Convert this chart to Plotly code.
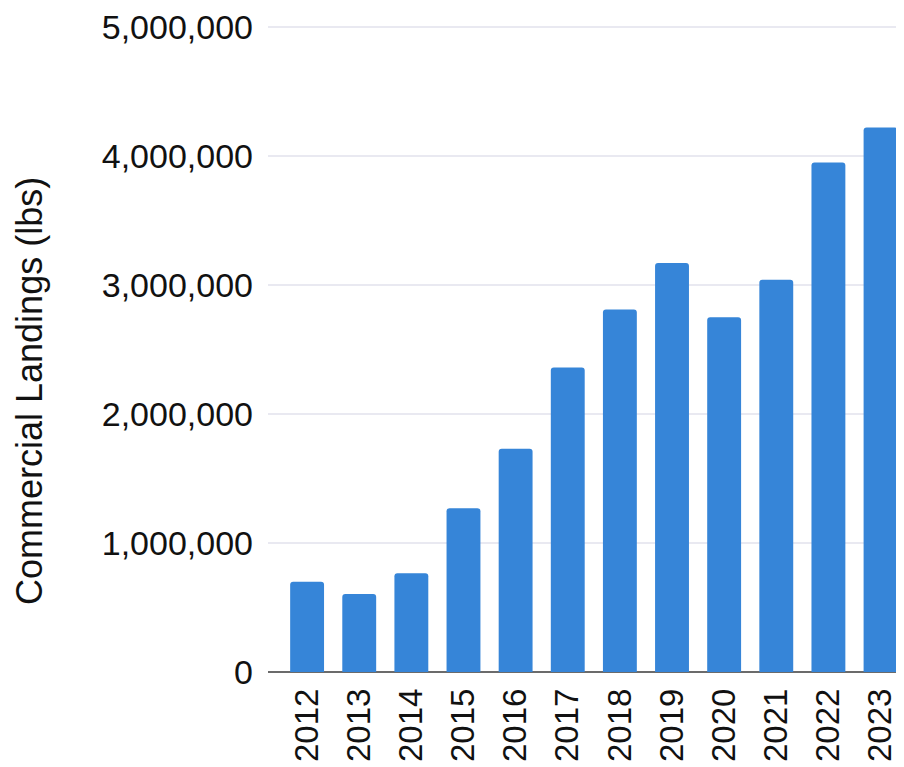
import plotly.graph_objects as go

years = ["2012", "2013", "2014", "2015", "2016", "2017", "2018", "2019", "2020", "2021", "2022", "2023"]
landings = [700000, 605000, 765000, 1270000, 1730000, 2360000, 2810000, 3170000, 2750000, 3040000, 3950000, 4220000]
y_ticks = [0, 1000000, 2000000, 3000000, 4000000, 5000000]
y_tick_labels = ["0", "1,000,000", "2,000,000", "3,000,000", "4,000,000", "5,000,000"]

font_family = "Arial, Liberation Sans, sans-serif"

fig = go.Figure()
fig.add_trace(go.Bar(
    x=years,
    y=landings,
    marker=dict(color="#3685d8", cornerradius=3, line=dict(width=0)),
))

# page body has an 8px margin, so margins are reduced by 8px at top/left
fig.update_layout(
    width=904,
    height=767,
    margin=dict(l=260, r=8, t=16, b=103, autoexpand=False),
    paper_bgcolor="white",
    plot_bgcolor="white",
    bargap=0.35,
    showlegend=False,
    font=dict(family=font_family, size=34, color="#111111"),
    xaxis=dict(
        type="category",
        range=[-0.75, 11.45],
        tickangle=-90,
        tickfont=dict(size=33, color="#111111"),
        showgrid=False,
        showline=False,
        ticks="",
        zeroline=False,
        ticklabelstandoff=9,
    ),
    yaxis=dict(
        range=[0, 5023000],
        tickvals=y_ticks,
        ticktext=y_tick_labels,
        tickfont=dict(size=34, color="#111111"),
        ticklabeloverflow="allow",
        showgrid=True,
        gridcolor="#e9e9f1",
        gridwidth=1.5,
        zeroline=True,
        zerolinecolor="#6b6b6b",
        zerolinewidth=2,
        ticks="",
        ticklabelstandoff=14,
    ),
    annotations=[dict(
        text="Commercial Landings (lbs)",
        xref="paper", yref="paper",
        x=0, y=0.5,
        xanchor="center", yanchor="middle",
        xshift=-239,
        yshift=-43,
        textangle=-90,
        showarrow=False,
        font=dict(size=36, color="#111111", family=font_family),
    )],
)

fig.write_html("out.html")
